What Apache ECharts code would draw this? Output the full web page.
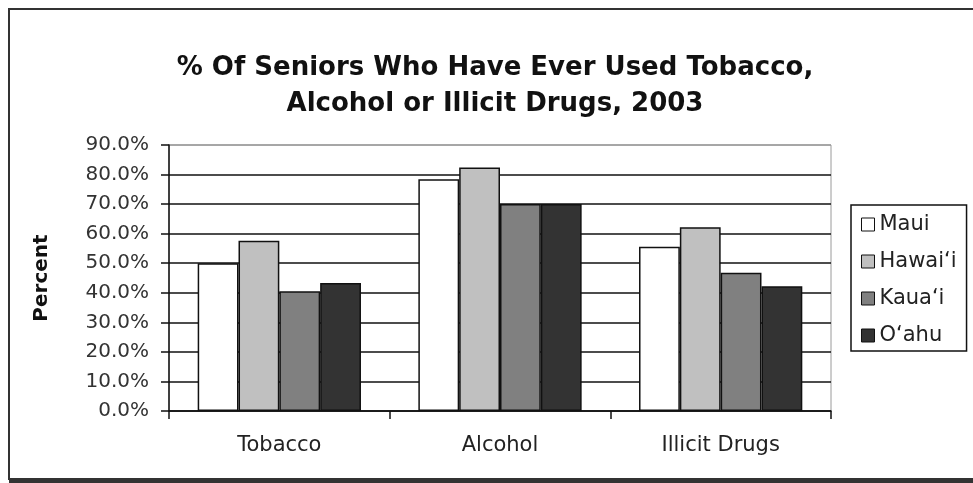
<!DOCTYPE html>
<html>
<head>
<meta charset="utf-8">
<script src="https://cdn.jsdelivr.net/npm/echarts@6/dist/echarts.min.js"></script>
<style>
  html, body { margin: 0; padding: 0; background: #fff; }
  #chart { width: 973px; height: 483px; }
</style>
</head>
<body>
<div id="chart"></div>
<script>
// Survey categories and island results (percent of seniors)
const categories = ['Tobacco', 'Alcohol', 'Illicit Drugs'];
const seriesNames = ['Maui', 'Hawai\u2018i', 'Kaua\u2018i', 'O\u2018ahu'];
const maui    = [50.0, 78.4, 55.6];
const hawaii  = [57.6, 82.4, 62.2];
const kauai   = [40.5, 70.0, 46.8];
const oahu    = [43.3, 70.0, 42.2];
const yTicks  = [0, 10, 20, 30, 40, 50, 60, 70, 80, 90];

const values = [maui, hawaii, kauai, oahu];
const fills = ['#ffffff', '#c0c0c0', '#808080', '#333333'];
const font = 'DejaVu Sans, Liberation Sans, sans-serif';

const chart = echarts.init(document.getElementById('chart'), null, { renderer: 'canvas' });

// gridline colours: black inside, grey for the top frame line
const splitColors = yTicks.map((t, i) => i === yTicks.length - 1 ? '#9a9a9a' : '#111');

chart.setOption({
  backgroundColor: '#fff',
  animation: false,
  title: {
    text: '% Of Seniors Who Have Ever Used Tobacco,\nAlcohol or Illicit Drugs, 2003',
    left: 490,
    top: 45,
    textAlign: 'center',
    textStyle: {
      fontFamily: font,
      fontSize: 26,
      fontWeight: 'bold',
      color: '#111',
      lineHeight: 36
    }
  },
  legend: {
    orient: 'vertical',
    left: 851,
    top: 205,
    data: seriesNames,
    icon: 'rect',
    itemWidth: 13,
    itemHeight: 13,
    itemGap: 16,
    itemStyle: { borderColor: '#111', borderWidth: 1 },
    padding: [9, 10, 5, 10],
    borderColor: '#111',
    borderWidth: 1.5,
    textStyle: { fontFamily: font, fontSize: 21, color: '#222' }
  },
  grid: {
    left: 169,
    right: 142,
    top: 145,
    bottom: 72,
    show: true,
    borderColor: '#9a9a9a',
    borderWidth: 1
  },
  xAxis: {
    type: 'category',
    data: categories,
    boundaryGap: true,
    axisLine: { lineStyle: { color: '#111', width: 1.5 } },
    axisTick: { show: true, length: 8, alignWithLabel: false, lineStyle: { color: '#111', width: 1.5 } },
    axisLabel: { fontFamily: font, fontSize: 21, color: '#222', margin: 24 }
  },
  yAxis: {
    type: 'value',
    min: 0,
    max: 90,
    interval: 10,
    name: 'Percent',
    nameLocation: 'middle',
    nameRotate: 90,
    nameGap: 117,
    nameTextStyle: { fontFamily: font, fontSize: 20, fontWeight: 'bold', color: '#111' },
    axisLine: { show: true, lineStyle: { color: '#111', width: 1.5 } },
    axisTick: { show: true, length: 8, lineStyle: { color: '#111', width: 1.5 } },
    axisLabel: {
      fontFamily: font, fontSize: 20, color: '#333', margin: 20,
      formatter: v => v.toFixed(1) + '%'
    },
    splitLine: { show: true, lineStyle: { color: splitColors, width: 1.5 } }
  },
  series: seriesNames.map((name, i) => ({
    name: name,
    type: 'bar',
    data: values[i],
    barGap: '0%',
    barCategoryGap: '26%',
    itemStyle: { color: fills[i], borderColor: '#111', borderWidth: 1.5 }
  })),
  graphic: [
    {
      type: 'rect',
      shape: { x: 9, y: 9, width: 980, height: 470 },
      style: { fill: null, stroke: '#333', lineWidth: 2 },
      silent: true
    },
    {
      type: 'line',
      shape: { x1: 9, y1: 481, x2: 973, y2: 481 },
      style: { stroke: '#333', lineWidth: 4 },
      silent: true
    }
  ]
});
</script>
</body>
</html>
